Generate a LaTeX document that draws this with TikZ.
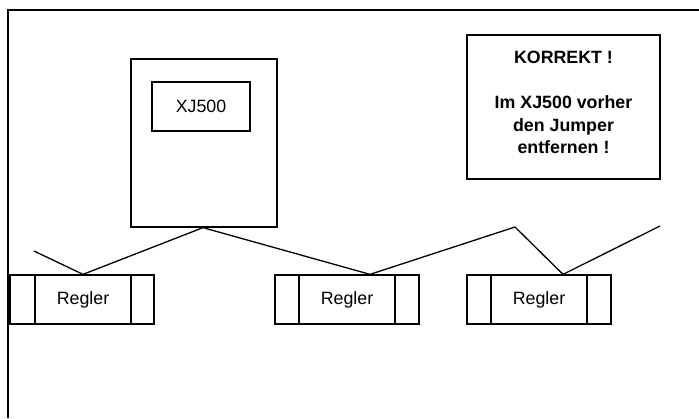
\documentclass[tikz,border=0pt]{standalone}
\usepackage{fontspec}
\setmainfont{Liberation Sans}
\begin{document}
\begin{tikzpicture}[x=1pt,y=-1pt,
  box/.style={draw,line width=1.3pt,inner sep=0pt},
  wire/.style={line width=1.3pt},
  txt/.style={font=\fontsize{17.8}{22}\selectfont},
  btxt/.style={font=\fontsize{17.8}{22.5}\selectfont\bfseries,align=center}]
\useasboundingbox (0,0) rectangle (699,418);
\draw[line width=1.6pt] (699,10) -- (8,10) -- (8,418);
% XJ500
\node[box,minimum width=146pt,minimum height=168pt] (xj) at (204,143) {};
\node[box,txt,minimum width=98pt,minimum height=49pt] (xjin) at (201,106.5) {XJ500};
% Regler
\node[box,minimum width=144pt,minimum height=49pt] (r1o) at (82,299.5) {};
\node[box,txt,minimum width=96pt,minimum height=49pt] (r1) at (83,299.5) {Regler};
\node[box,minimum width=144pt,minimum height=49pt] (r2o) at (347,299.5) {};
\node[box,txt,minimum width=96pt,minimum height=49pt] (r2) at (347,299.5) {Regler};
\node[box,minimum width=144pt,minimum height=49pt] (r3o) at (539,299.5) {};
\node[box,txt,minimum width=96pt,minimum height=49pt] (r3) at (539,299.5) {Regler};
% note
\node[box,minimum width=193pt,minimum height=144pt] (kbox) at (563.5,107) {};
\node[btxt] (ktext) at ([yshift=4.5pt]kbox.center) {KORREKT !\\[23pt]Im XJ500 vorher\\den Jumper\\entfernen !};
% wires
\coordinate (w0) at (34,251);
\coordinate (p1) at ([xshift=1pt]r1o.north);
\coordinate (j) at ([xshift=-1pt]xj.south);
\coordinate (p2) at ([xshift=23pt]r2o.north);
\coordinate (pk) at (515,227);
\coordinate (p3) at ([xshift=24pt]r3o.north);
\coordinate (w1) at (660,226);
\draw[wire] (w0) -- (p1) -- (j) -- (p2) -- (pk) -- (p3) -- (w1);
\end{tikzpicture}
\end{document}
